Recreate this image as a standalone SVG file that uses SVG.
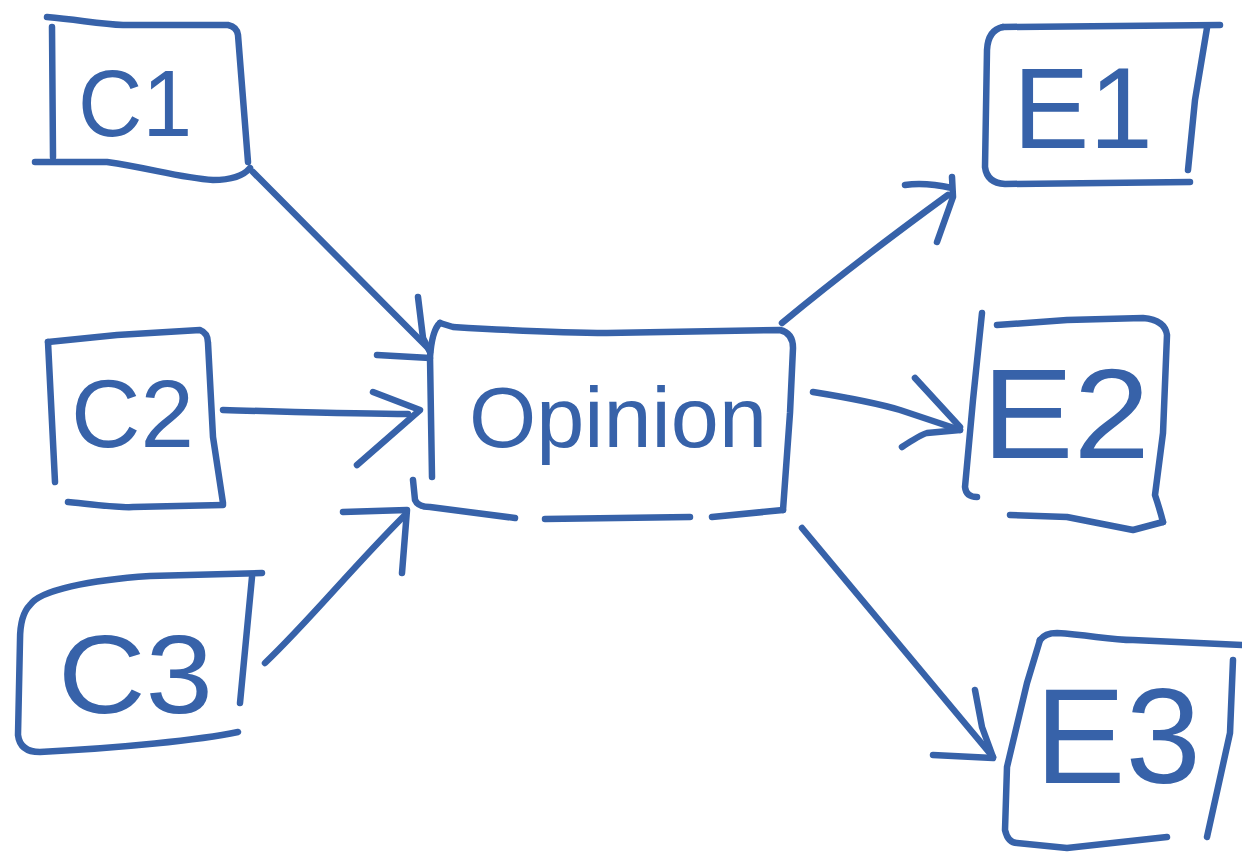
<svg xmlns="http://www.w3.org/2000/svg" width="1242" height="853" viewBox="0 0 1242 853">
<style>
.s{fill:none;stroke:#3762a9;stroke-width:6.5;stroke-linecap:round;stroke-linejoin:round}
.t{fill:#3762a9;font-family:"Liberation Sans","DejaVu Sans",sans-serif}
</style>
<rect width="1242" height="853" fill="#ffffff"/>
<g id="C1">
<path class="s" d="M47,17 C80,20 100,24 123,25 L228,25 Q237,27 238,35 L248,162"/>
<path class="s" d="M52,27 L53,157"/>
<path class="s" d="M35,162 L107,162 C150,168 180,178 213,180 Q240,180 250,168"/>
<text class="t" x="78" y="136" font-size="95" textLength="114" lengthAdjust="spacingAndGlyphs">C1</text>
</g>
<g id="C2">
<path class="s" d="M48,342 L117,335 L200,330 Q208,333 208,343 L213,437 L223,503"/>
<path class="s" d="M48,342 L55,482"/>
<path class="s" d="M68,502 C100,505 120,508 133,507 L223,505"/>
<text class="t" x="71" y="447" font-size="97" textLength="123" lengthAdjust="spacingAndGlyphs">C2</text>
</g>
<g id="C3">
<path class="s" d="M262,573 L150,576 C90,580 40,590 30,605 Q20,615 20,640 L18,735 Q20,752 40,752 C120,748 200,740 238,732"/>
<path class="s" d="M252,577 L240,703"/>
<text class="t" x="58" y="713" font-size="112" textLength="155" lengthAdjust="spacingAndGlyphs">C3</text>
</g>
<g id="Opinion">
<path class="s" d="M440,323 Q432,330 430,357 L432,477"/>
<path class="s" d="M440,323 L453,327 C520,331 560,333 607,333 L780,330 Q793,333 793,348 L790,413 L783,510"/>
<path class="s" d="M413,480 L415,500 Q418,507 430,507 L515,518"/>
<path class="s" d="M545,519 L690,517"/>
<path class="s" d="M712,517 L783,510"/>
<text class="t" x="469" y="447" font-size="86" textLength="298" lengthAdjust="spacingAndGlyphs">Opinion</text>
</g>
<g id="E1">
<path class="s" d="M1003,27 L1220,25"/>
<path class="s" d="M1003,27 Q988,30 987,50 L985,167 Q987,183 1005,184 L1190,182"/>
<path class="s" d="M1207,28 L1195,100 L1188,170"/>
<text class="t" x="1013" y="148" font-size="115" textLength="140" lengthAdjust="spacingAndGlyphs">E1</text>
</g>
<g id="E2">
<path class="s" d="M982,313 L973,400 L965,487 Q966,497 977,497"/>
<path class="s" d="M997,325 L1067,320 L1143,318 Q1165,320 1167,335 L1163,433 L1155,495 Q1160,510 1163,522"/>
<path class="s" d="M1010,515 L1067,517 L1133,530 L1163,522"/>
<text class="t" x="982" y="458" font-size="128" textLength="168" lengthAdjust="spacingAndGlyphs">E2</text>
</g>
<g id="E3">
<path class="s" d="M1040,640 Q1045,633 1057,633 C1090,635 1110,640 1133,640 L1242,645"/>
<path class="s" d="M1040,640 L1027,683 L1007,767 L1005,830 Q1008,843 1017,843 L1067,848 L1167,837"/>
<path class="s" d="M1233,660 L1230,733 L1207,837"/>
<text class="t" x="1035" y="783" font-size="135" textLength="166" lengthAdjust="spacingAndGlyphs">E3</text>
</g>
<g id="connectors">
<path class="s" d="M253,172 L430,350"/>
<path class="s" d="M418,297 L423,338 L430,352 M377,355 L430,358"/>
<path class="s" d="M223,410 C300,412 360,414 408,414"/>
<path class="s" d="M373,392 L420,410 L357,465"/>
<path class="s" d="M265,663 C310,620 350,570 405,515"/>
<path class="s" d="M343,512 L407,510 L402,573"/>
<path class="s" d="M782,323 C840,275 900,230 948,195"/>
<path class="s" d="M905,185 Q925,182 952,188 M952,177 L953,197 L937,242"/>
<path class="s" d="M813,392 C850,398 880,404 900,410 L960,430"/>
<path class="s" d="M915,378 L960,427 M902,447 Q920,435 927,433 L960,430"/>
<path class="s" d="M802,528 L993,757"/>
<path class="s" d="M975,690 L982,727 L993,757 M933,755 L993,758"/>
</g>
</svg>
